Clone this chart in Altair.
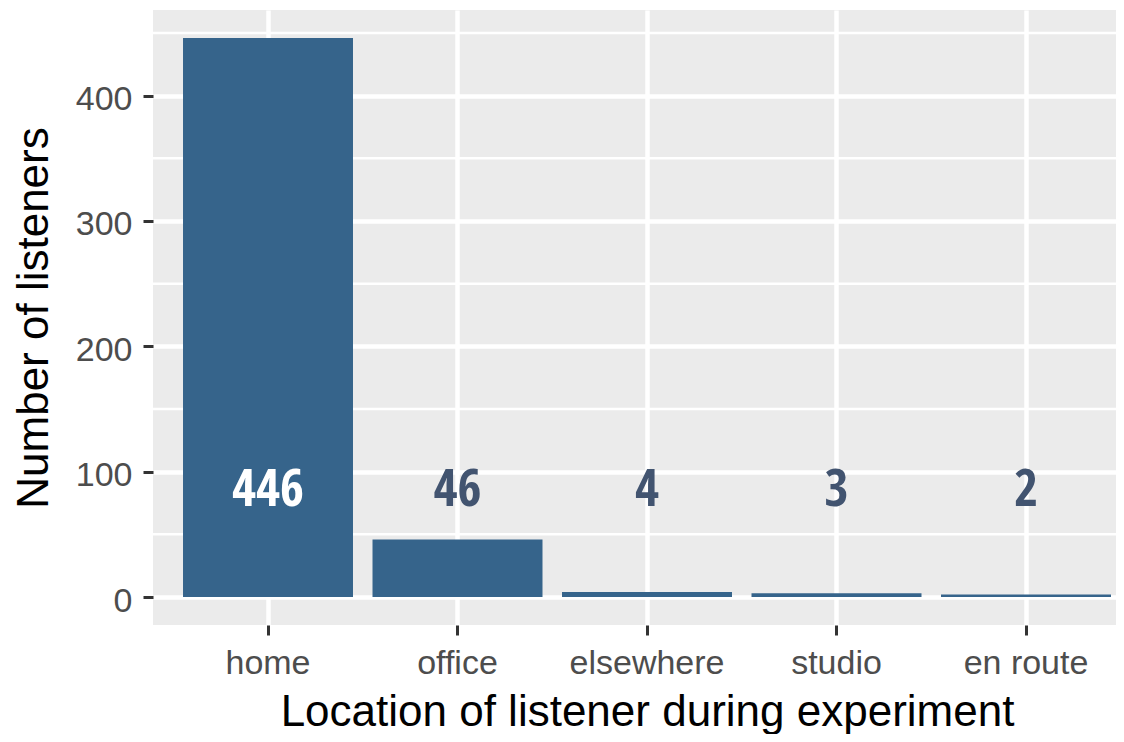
import altair as alt
import pandas as pd

locations = ["home", "office", "elsewhere", "studio", "en route"]
listeners = [446, 46, 4, 3, 2]
major_y_ticks = [0, 100, 200, 300, 400]
minor_y_lines = [50, 150, 250, 350, 450]
label_level = 100

df = pd.DataFrame({"location": locations, "n": listeners})
minor_df = pd.DataFrame({"v": minor_y_lines})

x_scale = alt.Scale(domain=locations, paddingInner=0.103, paddingOuter=0.0924, align=0.857)
y_scale = alt.Scale(domain=[-22.3, 468.3], nice=False)

x_axis = alt.Axis(
    title="Location of listener during experiment",
    bandPosition=0.5, grid=True, gridColor="white", gridWidth=4.5,
    domain=False, tickColor="#333333", tickWidth=3, tickSize=10,
    labelFont="Liberation Sans", labelFontSize=34, labelColor="#4D4D4D",
    labelPadding=38, labelBaseline="alphabetic", labelAngle=0,
    titleFont="Liberation Sans", titleFontSize=44, titleColor="black",
    titleFontWeight="normal", titleX=494, titleY=100,
    titleBaseline="alphabetic", titleAlign="center",
)
y_axis = alt.Axis(
    title="Number of listeners", values=major_y_ticks,
    grid=True, gridColor="white", gridWidth=4.5,
    domain=False, tickColor="#333333", tickWidth=3, tickSize=10,
    labelFont="Liberation Sans", labelFontSize=34, labelColor="#4D4D4D",
    labelPadding=11, labelBaseline="alphabetic", labelOffset=14,
    labelFlush=False, labelOverlap=False,
    titleFont="Liberation Sans", titleFontSize=44, titleColor="black",
    titleFontWeight="normal", titleAngle=270, titleX=-106, titleY=307.5,
    titleBaseline="alphabetic", titleAlign="center",
)

minor = alt.Chart(minor_df).mark_rule(color="white", strokeWidth=2.5).encode(
    y=alt.Y("v:Q", scale=y_scale, axis=y_axis)
)

bars = alt.Chart(df).mark_bar(color="#36648B").encode(
    x=alt.X("location:N", scale=x_scale, sort=locations, axis=x_axis),
    y=alt.Y("n:Q", scale=y_scale, axis=y_axis),
)

labels = alt.Chart(df).mark_text(
    font="Open Sans Condensed, DejaVu Sans Condensed, Roboto",
    fontWeight="bold", fontSize=52,
    baseline="alphabetic", dy=34,
).encode(
    x=alt.X("location:N", scale=x_scale, sort=locations, axis=x_axis),
    y=alt.datum(label_level, scale=y_scale, axis=y_axis),
    text="n:Q",
    color=alt.condition(alt.datum.n > 300, alt.value("white"), alt.value("#425470")),
)

chart = alt.layer(minor, bars, labels).properties(
    width=963, height=615,
    autosize=alt.AutoSizeParams(type="none"),
    padding={"left": 145, "top": 2, "right": 0, "bottom": 109},
).configure_view(fill="#EBEBEB", strokeWidth=0)

chart.save("out.html", embed_options={"renderer": "svg", "actions": False})
